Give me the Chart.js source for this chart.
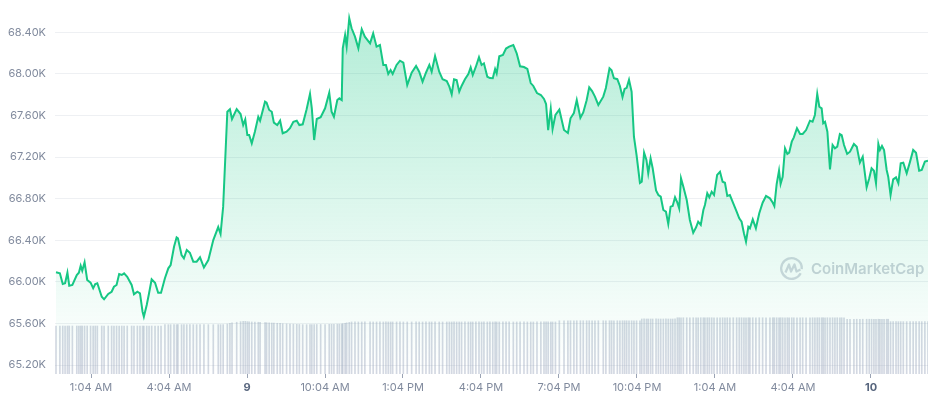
<!DOCTYPE html>
<html><head><meta charset="utf-8">
<script src="https://cdn.jsdelivr.net/npm/chart.js@4.4.1/dist/chart.umd.min.js"></script>
<style>html,body{margin:0;padding:0;background:#fff}#wrap{width:930px;height:400px;position:relative}</style>
</head><body><div id="wrap"><canvas id="c" width="930" height="400"></canvas></div>
<script>
// time in hours from midnight (day 8), price in USD, volume in billions USD
const times = [
-0.28,-0.13,-0.02,0.07,0.16,0.23,0.35,0.52,0.60,0.67,
0.73,0.82,0.92,1.05,1.15,1.23,1.31,1.48,1.57,1.73,
1.86,1.95,2.05,2.15,2.25,2.34,2.46,2.63,2.72,2.85,
2.95,3.05,3.10,3.21,3.30,3.40,3.53,3.65,3.76,3.91,
4.04,4.13,4.26,4.36,4.41,4.55,4.64,4.75,4.87,5.00,
5.13,5.26,5.41,5.58,5.77,5.96,6.05,6.15,6.31,6.41,
6.49,6.67,6.82,6.92,7.00,7.08,7.15,7.25,7.37,7.50,
7.57,7.76,7.82,7.92,8.02,8.10,8.23,8.34,8.44,8.59,
8.72,8.85,8.98,9.08,9.21,9.36,9.49,9.56,9.65,9.75,
9.90,10.07,10.23,10.32,10.41,10.54,10.62,10.71,10.75,10.84,
10.90,11.00,11.09,11.22,11.35,11.48,11.60,11.80,11.92,12.05,
12.18,12.31,12.41,12.50,12.59,12.67,12.82,12.95,13.08,13.23,
13.40,13.57,13.69,13.82,13.95,14.08,14.17,14.30,14.46,14.59,
14.75,14.85,14.94,15.03,15.13,15.23,15.32,15.45,15.58,15.67,
15.75,15.87,15.99,16.09,16.18,16.31,16.41,16.52,16.61,16.67,
16.77,16.91,17.03,17.15,17.31,17.44,17.57,17.72,17.85,17.98,
18.08,18.22,18.37,18.49,18.57,18.65,18.75,18.82,18.93,19.08,
19.26,19.41,19.51,19.64,19.75,19.89,20.00,20.13,20.23,20.34,
20.45,20.58,20.77,20.87,21.01,21.09,21.18,21.31,21.41,21.51,
21.59,21.67,21.76,21.86,21.95,22.05,22.18,22.25,22.34,22.43,
22.50,22.59,22.67,22.80,22.89,22.98,23.08,23.18,23.27,23.36,
23.44,23.53,23.62,23.69,23.76,23.85,23.98,24.10,24.23,24.34,
24.42,24.52,24.62,24.68,24.77,24.85,24.94,25.03,25.15,25.26,
25.36,25.45,25.54,25.64,25.77,25.90,26.00,26.09,26.18,26.26,
26.35,26.41,26.52,26.64,26.77,26.90,27.03,27.18,27.29,27.35,
27.44,27.53,27.59,27.67,27.76,27.85,27.92,28.02,28.10,28.22,
28.34,28.44,28.57,28.72,28.82,28.91,29.00,29.08,29.17,29.23,
29.30,29.39,29.49,29.59,29.68,29.77,29.87,29.94,30.03,30.15,
30.26,30.41,30.52,30.64,30.75,30.90,31.00,31.09,31.18,31.26,
31.35,31.41,31.49,31.57,31.67,31.73,31.82,31.92,32.03,32.12,
32.21,32.31,32.44,32.57,32.69,32.80,32.92,33.02,33.14,33.26
];
const prices = [
66092,66082,65979,65986,66088,65963,65970,66066,66088,66155,
66107,66188,66018,65992,65938,65979,65986,65857,65832,65883,
65905,65953,65970,66075,66066,66082,66049,65970,65880,65905,
65890,65713,65665,65777,65890,66024,65992,65895,65895,66034,
66130,66162,66338,66428,66419,66258,66226,66306,66280,66194,
66194,66236,66138,66210,66402,66527,66460,66723,67636,67660,
67566,67662,67614,67508,67563,67412,67412,67332,67444,67588,
67550,67733,67723,67653,67636,67531,67508,67550,67429,67444,
67477,67540,67550,67508,67515,67660,67807,67669,67364,67566,
67583,67669,67819,67636,67588,67749,67765,67749,68246,68374,
68262,68535,68439,68358,68246,68429,68358,68294,68390,68262,
68278,68086,68086,67999,68037,67999,68086,68127,68108,67893,
68011,68076,68021,67925,68011,68086,68021,68172,68021,67948,
67932,67877,67804,67948,67941,67829,67884,67948,67999,68063,
67989,68069,68160,68086,68102,67973,67960,67958,68047,68004,
68169,68182,68244,68262,68278,68198,68073,68066,68047,67912,
67884,67816,67797,67759,67710,67458,67664,67470,67605,67656,
67460,67432,67573,67624,67749,67578,67629,67746,67871,67835,
67781,67701,67781,67864,68054,68035,67958,67949,67884,67778,
67855,67866,67944,67829,67396,67220,66951,66963,67242,67172,
67044,67188,67092,66879,66835,66819,66691,66675,66556,66723,
66729,66813,66761,66707,66996,66915,66787,66595,66473,66525,
66578,66547,66691,66739,66852,66813,66867,66835,67028,67059,
66963,66953,66826,66835,66755,66675,66611,66578,66467,66386,
66530,66515,66601,66515,66659,66761,66826,66803,66761,66729,
66941,67069,66941,67011,67284,67230,67242,67348,67390,67477,
67422,67422,67460,67550,67540,67605,67807,67684,67669,67525,
67540,67444,67082,67316,67284,67300,67422,67412,67316,67230,
67252,67326,67300,67146,67204,66909,66996,67092,67069,66948,
67326,67268,67307,67268,67076,67011,66835,66986,67005,66948,
67140,67146,67044,67156,67268,67242,67069,67076,67156,67165
];
const volumes = [
32.1,32.1,32.1,32.1,32.1,32.1,32.1,32.1,32.1,32.1,
32.1,32.1,32.1,32.1,32.1,32.1,32.1,32.1,32.1,32.1,
32.1,32.1,32.1,32.1,32.1,32.1,32.1,32.1,32.1,32.1,
32.1,32.1,32.1,32.1,32.1,32.1,32.1,32.1,32.1,33.0,
33.0,33.0,33.0,33.0,33.0,33.0,33.0,33.0,33.0,33.0,
33.0,33.0,33.0,33.0,33.0,33.0,33.0,33.0,33.4,33.8,
34.2,34.6,35.0,35.2,35.2,35.0,34.9,34.8,34.7,34.6,
34.5,34.4,34.3,34.2,34.1,34.0,33.9,33.8,33.6,33.5,
33.4,33.3,33.2,33.1,33.0,33.0,33.0,33.0,33.1,33.1,
33.1,33.1,33.2,33.2,33.2,33.3,33.3,33.4,33.6,33.9,
34.2,34.5,34.8,34.8,34.8,34.8,34.8,34.8,34.8,34.8,
34.8,34.8,34.8,34.8,34.8,34.8,34.8,34.8,34.8,34.8,
34.8,34.8,34.8,34.8,34.8,34.8,34.8,34.8,34.8,34.8,
34.8,34.8,34.8,34.8,34.8,34.8,34.8,34.8,34.8,34.8,
34.8,34.8,34.8,34.8,34.8,34.8,34.8,34.8,34.8,34.8,
34.8,34.8,34.8,34.8,34.8,34.8,34.8,34.8,34.8,34.8,
34.8,34.8,34.8,34.8,34.8,34.8,34.8,34.8,34.8,35.6,
35.6,35.6,35.6,35.6,35.6,35.6,35.6,35.6,35.6,35.6,
35.6,35.6,35.6,35.6,35.6,35.6,35.6,35.6,35.6,35.6,
35.6,35.6,35.6,35.6,35.6,35.6,35.6,36.8,36.8,36.8,
36.8,36.8,36.8,36.8,36.8,36.8,36.8,36.8,36.8,36.8,
36.8,36.8,37.6,37.6,37.6,37.6,37.6,37.6,37.6,37.6,
37.6,37.6,37.6,37.6,37.6,37.6,37.6,37.6,37.6,37.6,
37.6,37.6,37.6,37.6,37.6,37.6,37.6,37.6,37.6,37.6,
37.6,37.6,37.6,37.6,37.6,37.6,37.6,37.6,37.6,37.6,
37.6,37.6,37.6,37.6,37.6,37.6,37.6,37.6,37.6,37.6,
37.6,37.6,37.6,37.6,37.6,37.6,37.6,37.6,37.6,37.6,
37.6,37.6,37.6,37.6,37.6,37.6,37.6,37.6,37.6,36.6,
36.6,36.6,36.6,36.6,36.6,36.6,36.6,36.6,36.6,36.6,
36.6,36.6,36.6,36.6,36.6,36.6,35.0,35.0,35.0,35.0,
35.0,35.0,35.0,35.0,35.0,35.0,35.0,35.0,35.0,35.0
];
const tickHours = [1.067, 4.067, 7.067, 10.067, 13.067, 16.067, 19.067, 22.067, 25.067, 28.067, 31.067];
const tickLabels = ['1:04 AM','4:04 AM','9','10:04 AM','1:04 PM','4:04 PM','7:04 PM','10:04 PM','1:04 AM','4:04 AM','10'];
const dayLabels = ['9','10'];
const priceTicks = [65200, 65600, 66000, 66400, 66800, 67200, 67600, 68000, 68400];
const timeStart = -0.318, timeEnd = 33.26;
const priceMin = 65113.6, priceMax = 68710.7;
const volumeMax = 250;

const green = '#16c784';
const watermark = {
  id: 'watermark',
  beforeDatasetsDraw(chart) {
    const {ctx, chartArea} = chart;
    const cx = chartArea.right - 136.5, cy = chartArea.bottom - 105.5;
    ctx.save();
    ctx.strokeStyle = 'rgba(150,160,178,0.42)';
    ctx.lineWidth = 2.3;
    ctx.beginPath();
    ctx.arc(cx, cy, 10.3, 0.15 * Math.PI, 2.02 * Math.PI);
    ctx.stroke();
    ctx.beginPath();
    ctx.lineJoin = 'round';
    ctx.moveTo(cx - 6, cy + 4);
    ctx.lineTo(cx - 2.5, cy - 4);
    ctx.lineTo(cx - 0.5, cy + 3);
    ctx.lineTo(cx + 3, cy - 4);
    ctx.lineTo(cx + 5, cy + 3);
    ctx.lineTo(cx + 9, cy + 1);
    ctx.stroke();
    ctx.fillStyle = 'rgba(150,160,178,0.48)';
    ctx.font = '600 15px Inter, "Noto Sans", sans-serif';
    ctx.textBaseline = 'middle';
    ctx.textAlign = 'left';
    ctx.fillText('CoinMarketCap', cx + 19.5, cy + 1);
    ctx.restore();
  }
};

new Chart(document.getElementById('c'), {
  data: {
    datasets: [
      {
        type: 'line',
        data: times.map((t, i) => ({x: t, y: prices[i]})),
        borderColor: green,
        borderWidth: 2,
        pointRadius: 0,
        tension: 0,
        fill: 'start',
        yAxisID: 'y',
        order: 1,
        backgroundColor: (c) => {
          const ch = c.chart, area = ch.chartArea;
          if (!area) return 'rgba(22,199,132,0.2)';
          const g = ch.ctx.createLinearGradient(0, area.top, 0, area.bottom);
          g.addColorStop(0, 'rgba(22,199,132,0.34)');
          g.addColorStop(0.85, 'rgba(22,199,132,0.04)');
          g.addColorStop(1, 'rgba(22,199,132,0)');
          return g;
        }
      },
      {
        type: 'bar',
        data: times.map((t, i) => ({x: t, y: volumes[i]})),
        backgroundColor: 'rgba(150,162,185,0.42)',
        barThickness: 1,
        yAxisID: 'vol',
        order: 2
      }
    ]
  },
  plugins: [watermark],
  options: {
    responsive: false,
    animation: false,
    layout: {padding: {left: 0, right: 2, top: 0, bottom: 0}},
    plugins: {legend: {display: false}, tooltip: {enabled: false}},
    scales: {
      x: {
        type: 'linear',
        offset: false,
        min: timeStart,
        max: timeEnd,
        afterFit: (s) => { s.height = 26; s.paddingLeft = 0; s.paddingRight = 0; },
        afterBuildTicks: (s) => { s.ticks = tickHours.map(v => ({value: v})); },
        grid: {offset: false, drawOnChartArea: false, drawTicks: true, tickLength: 4, tickColor: '#9aa3b4'},
        border: {display: false},
        ticks: {
          autoSkip: false,
          maxRotation: 0,
          padding: 3,
          callback: (v, i) => tickLabels[i],
          color: (c) => dayLabels.includes(tickLabels[c.index]) ? '#58667e' : '#808a9d',
          font: (c) => ({family: 'Inter', size: 11, weight: dayLabels.includes(tickLabels[c.index]) ? '700' : '400'})
        }
      },
      y: {
        type: 'linear',
        position: 'left',
        min: priceMin,
        max: priceMax,
        afterFit: (s) => { s.width = 55; s.paddingTop = 0; s.paddingBottom = 0; },
        afterBuildTicks: (s) => { s.ticks = priceTicks.map(v => ({value: v})); },
        grid: {color: '#eef0f3', drawTicks: false},
        border: {display: false},
        ticks: {
          padding: 9,
          color: '#808a9d',
          font: {family: 'Inter', size: 11},
          callback: (v) => (v / 1000).toFixed(2) + 'K'
        }
      },
      vol: {
        type: 'linear',
        display: false,
        min: 0,
        max: volumeMax,
        afterFit: (s) => { s.paddingTop = 0; s.paddingBottom = 0; }
      }
    }
  }
});
</script>
</body></html>
